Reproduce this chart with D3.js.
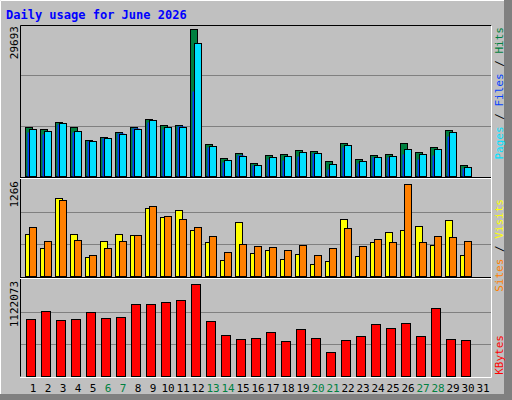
<!DOCTYPE html><html><head><script src="https://cdn.jsdelivr.net/npm/d3@7"></script>
<style>body{margin:0;background:#fff}</style></head><body><svg id="c" width="512" height="400"></svg>
<script>
const days=d3.range(1,32);
const weekend=[6,7,13,14,20,21,27,28];
const hits=[9943,9540,10950,9943,7323,7927,8935,9943,11555,10346,10346,29693,6516,3695,4703,2687,4300,4501,5307,5106,3090,6718,3493,4300,4501,6718,4904,5912,9338,2284,0];
const files=[8935,8400,10550,8935,7120,7725,8733,9741,10950,9540,10144,17198,5912,2889,4300,2284,3493,3292,4098,4703,1478,5912,2687,3896,3896,4501,3493,4300,8129,1680,0];
const pages=[9540,9137,10750,9137,7120,7725,8532,9540,11353,9943,9943,26872,6113,3292,4098,2284,3896,4098,4904,4703,2486,6315,3090,3896,4098,5509,4501,5509,8935,1881,0];
const visits=[578,385,1073,578,261,482,578,564,936,812,908,633,468,220,743,317,358,234,303,165,206,784,275,468,606,633,688,427,771,289,0];
const sites=[674,482,1046,495,289,385,482,564,963,826,784,674,550,330,440,413,399,358,427,289,385,661,413,509,468,1266,468,550,537,482,0];
const kbytes=[692e3,790e3,680e3,692e3,778e3,704e3,717e3,876e3,876e3,901e3,926e3,1122073,668e3,496e3,446e3,459e3,532e3,422e3,569e3,459e3,287e3,434e3,483e3,631e3,582e3,643e3,483e3,827e3,446e3,434e3,0];
const maxLabels=["29693","1266","1122073"];

const svg=d3.select("#c");
const F="'DejaVu Sans Mono',monospace";
svg.append("rect").attr("width",512).attr("height",400).attr("fill","#c0c0c0");
svg.append("path").attr("d","M0.5,399.5V0.5H511.5").attr("stroke","#fff").attr("fill","none");
svg.append("path").attr("d","M0,398.5H505.5V0").attr("stroke","#808080").attr("stroke-width",3).attr("fill","none");
svg.append("rect").attr("x",506).attr("y",0).attr("width",6).attr("height",400).attr("fill","#808080");
svg.append("rect").attr("x",0).attr("y",394).attr("width",512).attr("height",6).attr("fill","#808080");
svg.append("text").attr("x",6).attr("y",19).attr("font-family",F).attr("font-weight","bold").attr("font-size",12).attr("fill","#0000ff").text("Daily usage for June 2026");

const x=d3.scaleLinear().domain([1,31]).range([25,475]);
// outer panel box
svg.append("path").attr("d","M20.5,376.5V25.5H491.5").attr("stroke","#000").attr("fill","none");
svg.append("path").attr("d","M491.5,25.5V377.5H20").attr("stroke","#fff").attr("fill","none");

const panels=[
 {top:25,bot:176,max:29693,series:[[hits,0,8,"#008040"],[files,2,8,"#0040ff"],[pages,4,8,"#00e0ff"]]},
 {top:180,bot:276,max:1266,series:[[visits,0,8,"#ffff00"],[sites,4,8,"#ff8000"]]},
 {top:280,bot:376,max:1122073,series:[[kbytes,1,10,"#ff0000"]]}
];
const peakY=[29,184,284];
panels.forEach((p,i)=>{
  if(i>0) svg.append("line").attr("x1",20).attr("x2",491).attr("y1",p.top-2.5).attr("y2",p.top-2.5).attr("stroke","#000");
  if(i>0) svg.append("line").attr("x1",20).attr("x2",491).attr("y1",p.top-1.5).attr("y2",p.top-1.5).attr("stroke","#fff");
  const y=d3.scaleLinear().domain([0,p.max]).range([p.bot,peakY[i]]);
  const h=p.bot-p.top;
  [1/3,2/3].forEach(f=>svg.append("line").attr("x1",21).attr("x2",491).attr("y1",Math.round(p.top+h*f)+0.5).attr("y2",Math.round(p.top+h*f)+0.5).attr("stroke","#808080"));
  p.series.forEach(([vals,off,w,col])=>{
    svg.append("g").selectAll("rect").data(vals.map((v,j)=>({v,d:days[j]})).filter(o=>o.v>0)).join("rect")
      .attr("x",o=>x(o.d)+off+0.5).attr("y",o=>Math.round(y(o.v))+0.5).attr("width",w-1).attr("height",o=>p.bot-Math.round(y(o.v)))
      .attr("fill",col).attr("stroke", col=="#0040ff"?"none":"#000");
  });
  svg.append("text").attr("transform",`translate(18,${p.top+1}) rotate(-90)`).attr("text-anchor","end")
    .attr("font-family",F).attr("font-size",11).attr("fill","#000").text(maxLabels[i]);
});
function rlabel(y,parts){
  const t=svg.append("text").attr("transform",`translate(503,${y}) rotate(-90)`).attr("text-anchor","end").attr("font-family",F).attr("font-size",11);
  parts.forEach(([s,c])=>t.append("tspan").attr("fill",c).text(s));
}
rlabel(27,[["Pages","#00e0ff"],[" / ","#000"],["Files","#0040ff"],[" / ","#000"],["Hits","#008040"]]);
rlabel(199,[["Sites","#ff8000"],[" / ","#000"],["Visits","#ffff00"]]);
rlabel(335,[["KBytes","#ff0000"]]);
svg.append("g").selectAll("text").data(days).join("text").attr("x",d=>x(d)+8).attr("y",392).attr("text-anchor","middle")
  .attr("font-family",F).attr("font-size",11).attr("fill",d=>weekend.includes(d)?"#008040":"#000").text(d=>d);
</script></body></html>
